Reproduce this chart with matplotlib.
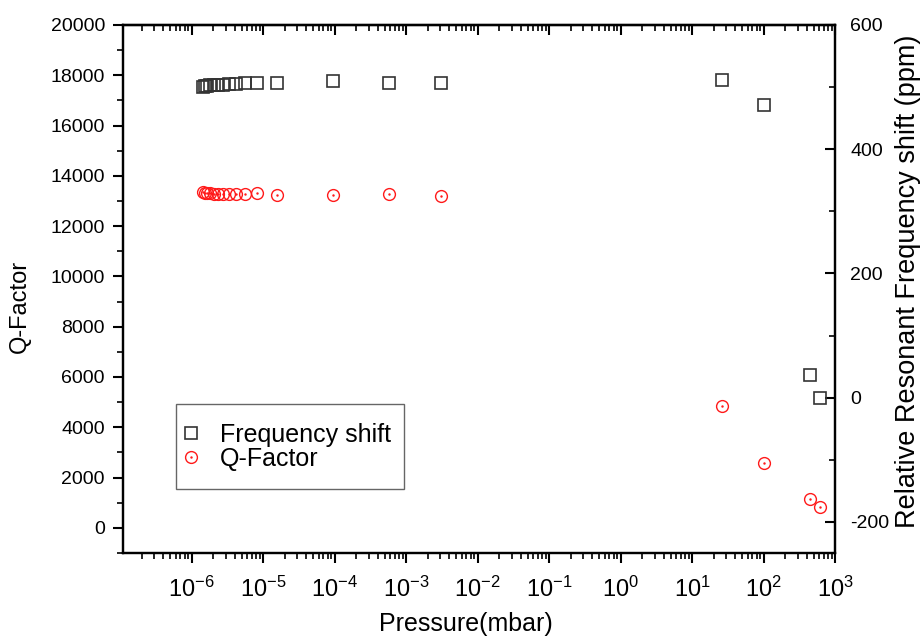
import numpy as np
import matplotlib
matplotlib.use("Agg")
import matplotlib.pyplot as plt
from matplotlib.ticker import LogLocator, MultipleLocator, NullFormatter
from matplotlib.legend_handler import HandlerTuple
from matplotlib.patches import Rectangle

plt.rcParams['font.family'] = ['Liberation Sans', 'DejaVu Sans']
plt.rcParams['mathtext.fontset'] = 'custom'
plt.rcParams['mathtext.rm'] = 'Liberation Sans'
plt.rcParams['mathtext.default'] = 'regular'
plt.rcParams['axes.unicode_minus'] = False

# pressure (mbar), shared by both series
pressure = [1.43e-6, 1.52e-6, 1.65e-6, 1.82e-6, 2.03e-6, 2.31e-6, 2.72e-6,
            3.30e-6, 4.14e-6, 5.62e-6, 8.34e-6, 1.59e-5, 9.4e-5, 5.83e-4,
            3.05e-3, 26.4, 100, 443, 624]
# relative resonant frequency shift (ppm), right axis
freq_shift = [500, 501, 502, 503, 503, 504, 504, 505, 505, 506, 507, 507,
              509, 507, 506, 511, 471, 36, 0]
# Q-factor, left axis
q_factor = [13350, 13330, 13310, 13300, 13290, 13290, 13280, 13280, 13280,
            13290, 13320, 13250, 13230, 13280, 13210, 4840, 2580, 1130, 810]

fig = plt.figure(figsize=(9.23, 6.4), dpi=100)
ax = fig.add_axes([0.1333, 0.136, 0.7714, 0.825])
ax2 = ax.twinx()

ax.set_xscale('log')
ax.set_xlim(1.1e-7, 1e3)
ax.set_ylim(-1000, 20000)
ax2.set_ylim(-250, 600)

red = '#ff1a1a'
c1, = ax.plot(pressure, q_factor, 'o', ms=8.5, mfc='none', mec=red, mew=1.0)
c2, = ax.plot(pressure, q_factor, '.', ms=1.5, color=red)
s1, = ax2.plot(pressure, freq_shift, 's', ms=8, mfc='none', mec='#333333', mew=1.2)

ax.set_ylabel('Q-Factor', fontsize=17)
ax.yaxis.set_label_coords(-0.13, 0.466)
ax2.set_ylabel('Relative Resonant Frequency shift (ppm)', fontsize=19.5,
               rotation=90, va='center')
ax2.yaxis.set_label_coords(1.1025, 0.515)
ax.set_xlabel('Pressure(mbar)', fontsize=18)
ax.xaxis.set_label_coords(0.482, -0.112)

ax.xaxis.set_major_locator(LogLocator(base=10, numticks=20))
ax.xaxis.set_minor_locator(LogLocator(base=10, subs=np.arange(2, 10), numticks=20))
ax.xaxis.set_minor_formatter(NullFormatter())
ax.yaxis.set_major_locator(MultipleLocator(2000))
ax.yaxis.set_minor_locator(MultipleLocator(1000))
ax2.yaxis.set_major_locator(MultipleLocator(200))
ax2.yaxis.set_minor_locator(MultipleLocator(100))

ax.tick_params(axis='x', which='major', direction='out', length=7, width=1.5,
               labelsize=17, pad=10)
ax.tick_params(axis='x', which='minor', direction='out', length=4, width=1.2)
ax.tick_params(axis='y', which='major', direction='out', length=7, width=1.5,
               labelsize=14, pad=6)
ax.tick_params(axis='y', which='minor', direction='out', length=4, width=1.2)
ax2.tick_params(axis='y', which='major', direction='in', length=7, width=1.5,
                labelsize=14, pad=11)
ax2.tick_params(axis='y', which='minor', direction='in', length=4, width=1.2)

top = ax.secondary_xaxis('top')
top.xaxis.set_major_locator(LogLocator(base=10, numticks=20))
top.xaxis.set_minor_locator(LogLocator(base=10, subs=np.arange(2, 10), numticks=20))
top.tick_params(which='major', direction='in', length=7, width=1.5, labeltop=False)
top.tick_params(which='minor', direction='in', length=4, width=1.2)
top.xaxis.set_minor_formatter(NullFormatter())

for a in (ax, ax2):
    for sp in a.spines.values():
        sp.set_linewidth(1.6)
top.spines['top'].set_linewidth(1.6)

# legend frame as drawn in the original
ax.add_patch(Rectangle((0.0744, 0.1212), 0.3202, 0.161, transform=ax.transAxes,
                       fill=False, edgecolor='#666666', lw=1.0, zorder=5))
leg = ax.legend([s1, (c1, c2)], ['Frequency shift', 'Q-Factor'],
                handler_map={tuple: HandlerTuple(ndivide=1)},
                loc='upper left', bbox_to_anchor=(0.078, 0.2466),
                fontsize=18, frameon=False, borderpad=0, borderaxespad=0,
                handlelength=1.0, handletextpad=0.66, labelspacing=0.0)

fig.savefig('out.png', dpi=100)
